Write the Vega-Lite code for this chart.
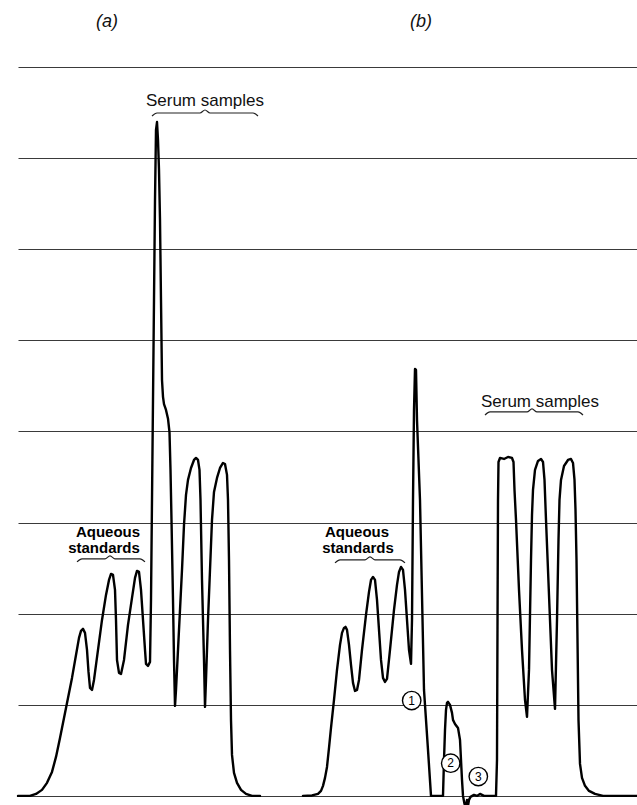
{
  "$schema": "https://vega.github.io/schema/vega-lite/v6.json",
  "width": 619,
  "height": 738,
  "autosize": {"type": "none"},
  "padding": {"left": 18, "top": 67, "right": 0, "bottom": 0},
  "background": "white",
  "config": {"view": {"stroke": null}, "font": "Liberation Sans"},
  "datasets": {
    "traces": [
      {"s":"a","t":0,"v":0},{"s":"a","t":1.2,"v":0},{"s":"a","t":1.8,"v":0.022},{"s":"a","t":2.4,"v":0.066},{"s":"a","t":2.9,"v":0.143},{"s":"a","t":3.4,"v":0.263},{"s":"a","t":3.8,"v":0.428},{"s":"a","t":4.2,"v":0.636},{"s":"a","t":4.6,"v":0.856},{"s":"a","t":5.0,"v":1.075},{"s":"a","t":5.4,"v":1.295},{"s":"a","t":5.8,"v":1.547},{"s":"a","t":6.1,"v":1.734},{"s":"a","t":6.3,"v":1.811},{"s":"a","t":6.5,"v":1.833},{"s":"a","t":6.7,"v":1.789},{"s":"a","t":6.9,"v":1.602},{"s":"a","t":7.05,"v":1.361},{"s":"a","t":7.2,"v":1.185},{"s":"a","t":7.4,"v":1.163},{"s":"a","t":7.6,"v":1.273},{"s":"a","t":8.0,"v":1.602},{"s":"a","t":8.4,"v":1.931},{"s":"a","t":8.8,"v":2.206},{"s":"a","t":9.1,"v":2.37},{"s":"a","t":9.3,"v":2.436},{"s":"a","t":9.5,"v":2.425},{"s":"a","t":9.7,"v":2.261},{"s":"a","t":9.8,"v":1.931},{"s":"a","t":9.9,"v":1.492},{"s":"a","t":10.1,"v":1.35},{"s":"a","t":10.3,"v":1.339},{"s":"a","t":10.6,"v":1.492},{"s":"a","t":11.0,"v":1.877},{"s":"a","t":11.4,"v":2.173},{"s":"a","t":11.7,"v":2.392},{"s":"a","t":11.9,"v":2.469},{"s":"a","t":12.1,"v":2.458},{"s":"a","t":12.3,"v":2.261},{"s":"a","t":12.5,"v":1.931},{"s":"a","t":12.7,"v":1.602},{"s":"a","t":12.8,"v":1.449},{"s":"a","t":13.0,"v":1.427},{"s":"a","t":13.2,"v":1.471},{"s":"a","t":13.3,"v":2.151},{"s":"a","t":13.4,"v":3.248},{"s":"a","t":13.5,"v":4.346},{"s":"a","t":13.6,"v":5.443},{"s":"a","t":13.7,"v":6.54},{"s":"a","t":13.8,"v":7.309},{"s":"a","t":13.9,"v":7.396},{"s":"a","t":14.0,"v":7.199},{"s":"a","t":14.1,"v":6.87},{"s":"a","t":14.2,"v":6.321},{"s":"a","t":14.3,"v":5.443},{"s":"a","t":14.4,"v":4.565},{"s":"a","t":14.5,"v":4.38},{"s":"a","t":14.6,"v":4.3},{"s":"a","t":14.8,"v":4.236},{"s":"a","t":15.0,"v":4.14},{"s":"a","t":15.15,"v":3.99},{"s":"a","t":15.25,"v":3.578},{"s":"a","t":15.35,"v":3.029},{"s":"a","t":15.5,"v":2.151},{"s":"a","t":15.6,"v":1.492},{"s":"a","t":15.7,"v":0.988},{"s":"a","t":15.8,"v":1.163},{"s":"a","t":16.0,"v":1.602},{"s":"a","t":16.2,"v":2.041},{"s":"a","t":16.4,"v":2.48},{"s":"a","t":16.6,"v":2.974},{"s":"a","t":16.8,"v":3.303},{"s":"a","t":17.0,"v":3.468},{"s":"a","t":17.3,"v":3.599},{"s":"a","t":17.6,"v":3.687},{"s":"a","t":17.8,"v":3.709},{"s":"a","t":18.0,"v":3.687},{"s":"a","t":18.15,"v":3.578},{"s":"a","t":18.25,"v":3.248},{"s":"a","t":18.4,"v":2.37},{"s":"a","t":18.6,"v":1.492},{"s":"a","t":18.7,"v":0.977},{"s":"a","t":18.8,"v":1.273},{"s":"a","t":19.0,"v":1.931},{"s":"a","t":19.2,"v":2.48},{"s":"a","t":19.4,"v":3.029},{"s":"a","t":19.6,"v":3.336},{"s":"a","t":19.9,"v":3.49},{"s":"a","t":20.2,"v":3.599},{"s":"a","t":20.5,"v":3.654},{"s":"a","t":20.7,"v":3.643},{"s":"a","t":20.9,"v":3.523},{"s":"a","t":21.0,"v":3.248},{"s":"a","t":21.1,"v":2.59},{"s":"a","t":21.2,"v":1.602},{"s":"a","t":21.3,"v":0.834},{"s":"a","t":21.4,"v":0.45},{"s":"a","t":21.6,"v":0.252},{"s":"a","t":21.9,"v":0.143},{"s":"a","t":22.3,"v":0.066},{"s":"a","t":22.8,"v":0.022},{"s":"a","t":23.4,"v":0},{"s":"a","t":24.2,"v":0},
      {"s":"b","t":28.5,"v":0},{"s":"b","t":29.4,"v":0.005},{"s":"b","t":30.0,"v":0.022},{"s":"b","t":30.3,"v":0.055},{"s":"b","t":30.5,"v":0.11},{"s":"b","t":30.7,"v":0.198},{"s":"b","t":30.9,"v":0.318},{"s":"b","t":31.1,"v":0.527},{"s":"b","t":31.3,"v":0.746},{"s":"b","t":31.6,"v":1.053},{"s":"b","t":31.9,"v":1.383},{"s":"b","t":32.2,"v":1.657},{"s":"b","t":32.4,"v":1.789},{"s":"b","t":32.6,"v":1.844},{"s":"b","t":32.75,"v":1.855},{"s":"b","t":32.9,"v":1.822},{"s":"b","t":33.1,"v":1.657},{"s":"b","t":33.3,"v":1.438},{"s":"b","t":33.5,"v":1.24},{"s":"b","t":33.7,"v":1.152},{"s":"b","t":33.9,"v":1.163},{"s":"b","t":34.1,"v":1.273},{"s":"b","t":34.4,"v":1.602},{"s":"b","t":34.8,"v":1.986},{"s":"b","t":35.1,"v":2.239},{"s":"b","t":35.3,"v":2.37},{"s":"b","t":35.5,"v":2.403},{"s":"b","t":35.7,"v":2.37},{"s":"b","t":35.9,"v":2.151},{"s":"b","t":36.1,"v":1.822},{"s":"b","t":36.3,"v":1.492},{"s":"b","t":36.5,"v":1.295},{"s":"b","t":36.7,"v":1.251},{"s":"b","t":36.9,"v":1.284},{"s":"b","t":37.2,"v":1.602},{"s":"b","t":37.6,"v":2.041},{"s":"b","t":37.9,"v":2.316},{"s":"b","t":38.1,"v":2.458},{"s":"b","t":38.3,"v":2.513},{"s":"b","t":38.5,"v":2.48},{"s":"b","t":38.7,"v":2.261},{"s":"b","t":38.9,"v":1.931},{"s":"b","t":39.1,"v":1.602},{"s":"b","t":39.3,"v":1.449},{"s":"b","t":39.4,"v":1.931},{"s":"b","t":39.5,"v":3.248},{"s":"b","t":39.6,"v":4.236},{"s":"b","t":39.7,"v":4.686},{"s":"b","t":39.8,"v":4.675},{"s":"b","t":39.9,"v":4.126},{"s":"b","t":40.2,"v":3.248},{"s":"b","t":40.6,"v":1.163},{"s":"b","t":41.0,"v":0.505},{"s":"b","t":41.3,"v":0},{"s":"b","t":42.5,"v":0},{"s":"b","t":42.6,"v":0.395},{"s":"b","t":42.7,"v":0.724},{"s":"b","t":42.8,"v":0.944},{"s":"b","t":42.9,"v":1.021},{"s":"b","t":43.0,"v":1.032},{"s":"b","t":43.2,"v":0.999},{"s":"b","t":43.4,"v":0.911},{"s":"b","t":43.5,"v":0.834},{"s":"b","t":43.7,"v":0.79},{"s":"b","t":44.0,"v":0.746},{"s":"b","t":44.2,"v":0.615},{"s":"b","t":44.3,"v":0.395},{"s":"b","t":44.4,"v":0.176},{"s":"b","t":44.5,"v":0},{"s":"b","t":44.65,"v":-0.088},{"s":"b","t":44.8,"v":-0.11},{"s":"b","t":44.9,"v":-0.044},{"s":"b","t":45.0,"v":-0.11},{"s":"b","t":45.1,"v":-0.044},{"s":"b","t":45.25,"v":-0.011},{"s":"b","t":45.6,"v":0.011},{"s":"b","t":45.9,"v":0},{"s":"b","t":46.2,"v":0.022},{"s":"b","t":46.6,"v":0},{"s":"b","t":47.8,"v":0},{"s":"b","t":47.9,"v":0.395},{"s":"b","t":47.96,"v":2.151},{"s":"b","t":48.0,"v":3.248},{"s":"b","t":48.05,"v":3.665},{"s":"b","t":48.2,"v":3.709},{"s":"b","t":48.6,"v":3.698},{"s":"b","t":49.0,"v":3.72},{"s":"b","t":49.4,"v":3.709},{"s":"b","t":49.55,"v":3.665},{"s":"b","t":49.65,"v":3.358},{"s":"b","t":49.8,"v":3.029},{"s":"b","t":50.1,"v":2.261},{"s":"b","t":50.4,"v":1.602},{"s":"b","t":50.7,"v":1.053},{"s":"b","t":50.9,"v":0.867},{"s":"b","t":51.1,"v":1.383},{"s":"b","t":51.3,"v":2.59},{"s":"b","t":51.4,"v":3.084},{"s":"b","t":51.5,"v":3.358},{"s":"b","t":51.7,"v":3.578},{"s":"b","t":52.0,"v":3.676},{"s":"b","t":52.3,"v":3.698},{"s":"b","t":52.5,"v":3.665},{"s":"b","t":52.65,"v":3.468},{"s":"b","t":52.8,"v":3.029},{"s":"b","t":53.0,"v":2.48},{"s":"b","t":53.2,"v":1.931},{"s":"b","t":53.4,"v":1.383},{"s":"b","t":53.7,"v":0.955},{"s":"b","t":53.9,"v":1.931},{"s":"b","t":54.05,"v":2.809},{"s":"b","t":54.15,"v":3.248},{"s":"b","t":54.3,"v":3.468},{"s":"b","t":54.6,"v":3.621},{"s":"b","t":55.0,"v":3.687},{"s":"b","t":55.3,"v":3.698},{"s":"b","t":55.5,"v":3.654},{"s":"b","t":55.65,"v":3.468},{"s":"b","t":55.75,"v":3.139},{"s":"b","t":55.85,"v":2.59},{"s":"b","t":55.95,"v":1.712},{"s":"b","t":56.05,"v":0.834},{"s":"b","t":56.2,"v":0.351},{"s":"b","t":56.4,"v":0.198},{"s":"b","t":56.7,"v":0.11},{"s":"b","t":57.1,"v":0.055},{"s":"b","t":57.7,"v":0.022},{"s":"b","t":58.5,"v":0},{"s":"b","t":61.9,"v":0}
    ],
    "braces": [
      {"g":"a-serum","t":13.4,"v":7.462},{"g":"a-serum","t":13.9,"v":7.495},{"g":"a-serum","t":18.2,"v":7.495},{"g":"a-serum","t":18.7,"v":7.528},{"g":"a-serum","t":19.2,"v":7.495},{"g":"a-serum","t":23.5,"v":7.495},{"g":"a-serum","t":24.0,"v":7.462},
      {"g":"b-serum","t":46.7,"v":4.181},{"g":"b-serum","t":47.2,"v":4.214},{"g":"b-serum","t":50.9,"v":4.214},{"g":"b-serum","t":51.4,"v":4.247},{"g":"b-serum","t":51.9,"v":4.214},{"g":"b-serum","t":56.0,"v":4.214},{"g":"b-serum","t":56.5,"v":4.181},
      {"g":"a-aq","t":5.9,"v":2.568},{"g":"a-aq","t":6.4,"v":2.601},{"g":"a-aq","t":8.7,"v":2.601},{"g":"a-aq","t":9.2,"v":2.634},{"g":"a-aq","t":9.7,"v":2.601},{"g":"a-aq","t":12.2,"v":2.601},{"g":"a-aq","t":12.7,"v":2.568},
      {"g":"b-aq","t":31.7,"v":2.557},{"g":"b-aq","t":32.2,"v":2.59},{"g":"b-aq","t":34.7,"v":2.59},{"g":"b-aq","t":35.2,"v":2.623},{"g":"b-aq","t":35.7,"v":2.59},{"g":"b-aq","t":38.2,"v":2.59},{"g":"b-aq","t":38.7,"v":2.557}
    ],
    "labels": [
      {"k":"title","t":8.9,"v":8.494,"text":"(a)"},
      {"k":"title","t":40.3,"v":8.494,"text":"(b)"},
      {"k":"serum","t":18.7,"v":7.572,"text":"Serum samples"},
      {"k":"serum","t":52.2,"v":4.269,"text":"Serum samples"},
      {"k":"aq","t":9.0,"v":2.842,"text":"Aqueous"},
      {"k":"aq","t":8.6,"v":2.667,"text":"standards"},
      {"k":"aq","t":33.9,"v":2.842,"text":"Aqueous"},
      {"k":"aq","t":34.0,"v":2.667,"text":"standards"}
    ],
    "circles": [
      {"t":39.37,"v":1.046,"n":"1"},
      {"t":43.27,"v":0.359,"n":"2"},
      {"t":46.03,"v":0.212,"n":"3"}
    ]
  },
  "encoding": {
    "x": {"field": "t", "type": "quantitative", "scale": {"domain": [0, 61.9], "nice": false, "zero": false}, "axis": null},
    "y": {"field": "v", "type": "quantitative", "scale": {"domain": [-0.1, 8], "nice": false, "zero": false},
      "axis": {"values": [0,1,2,3,4,5,6,7,8], "grid": true, "gridColor": "#3a3a3a", "gridWidth": 1.2, "gridOpacity": 1, "labels": false, "ticks": false, "domain": false, "title": null}}
  },
  "layer": [
    {
      "data": {"name": "traces"},
      "mark": {"type": "line", "color": "#000", "strokeWidth": 2.4, "strokeJoin": "round", "strokeCap": "round"},
      "encoding": {"detail": {"field": "s"}}
    },
    {
      "mark": {"type": "rule", "color": "#000", "strokeWidth": 2.5},
      "encoding": {"y": {"datum": 0}, "x": null}
    },
    {
      "data": {"name": "braces"},
      "mark": {"type": "line", "color": "#222", "strokeWidth": 1.2, "interpolate": "monotone"},
      "encoding": {"detail": {"field": "g"}}
    },
    {
      "data": {"name": "labels"},
      "transform": [{"filter": "datum.k == 'title'"}],
      "mark": {"type": "text", "fontSize": 18, "fontStyle": "italic", "baseline": "middle", "align": "center", "color": "#111"},
      "encoding": {"text": {"field": "text"}}
    },
    {
      "data": {"name": "labels"},
      "transform": [{"filter": "datum.k == 'serum'"}],
      "mark": {"type": "text", "fontSize": 17, "baseline": "alphabetic", "align": "center", "color": "#111"},
      "encoding": {"text": {"field": "text"}}
    },
    {
      "data": {"name": "labels"},
      "transform": [{"filter": "datum.k == 'aq'"}],
      "mark": {"type": "text", "fontSize": 15, "fontWeight": "bold", "baseline": "alphabetic", "align": "center", "color": "#000"},
      "encoding": {"text": {"field": "text"}}
    },
    {
      "data": {"name": "circles"},
      "mark": {"type": "point", "shape": "circle", "filled": true, "fill": "white", "stroke": "#000", "strokeWidth": 1.4, "size": 340, "opacity": 1},
      "encoding": {}
    },
    {
      "data": {"name": "circles"},
      "mark": {"type": "text", "fontSize": 12, "baseline": "middle", "align": "center", "color": "#000"},
      "encoding": {"text": {"field": "n"}}
    }
  ]
}
